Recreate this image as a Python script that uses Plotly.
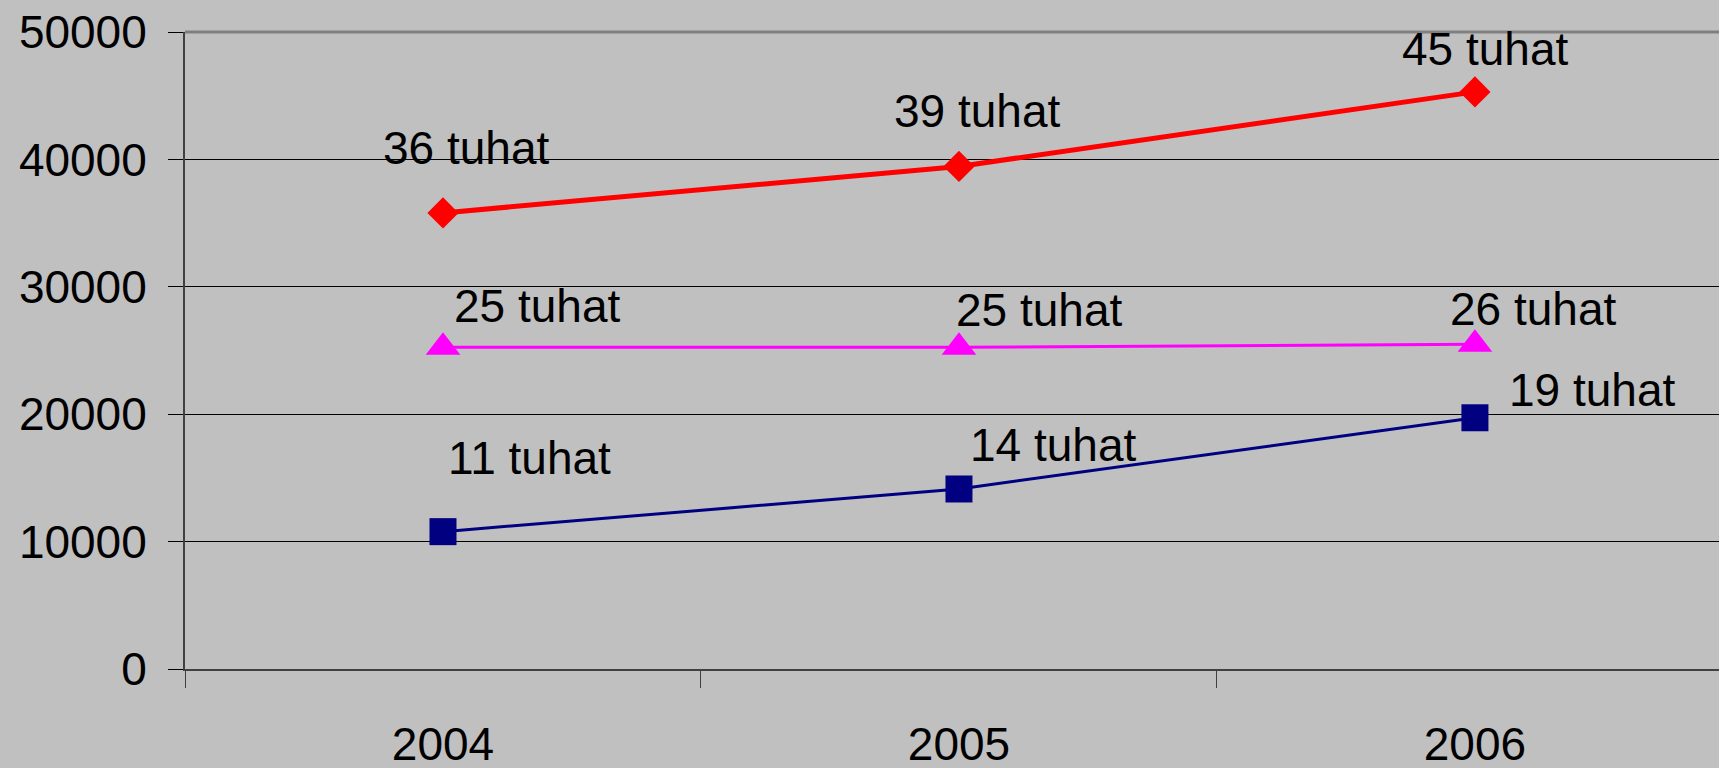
import plotly.graph_objects as go

years = ["2004", "2005", "2006"]
red_vals = [35800, 39450, 45300]
magenta_vals = [25250, 25250, 25500]
navy_vals = [10780, 14130, 19720]
red_labels = ["36 tuhat", "39 tuhat", "45 tuhat"]
magenta_labels = ["25 tuhat", "25 tuhat", "26 tuhat"]
navy_labels = ["11 tuhat", "14 tuhat", "19 tuhat"]
y_ticks = [0, 10000, 20000, 30000, 40000, 50000]
y_tick_text = ["0", "10000", "20000", "30000", "40000", "50000"]

FONT = "Liberation Sans, Arial, sans-serif"
fig = go.Figure()

fig.add_trace(go.Scatter(x=years, y=red_vals, mode="lines+markers",
                         line=dict(color="#FF0000", width=5),
                         marker=dict(symbol="diamond", size=24, color="#FF0000")))
fig.add_trace(go.Scatter(x=years, y=magenta_vals, mode="lines+markers",
                         line=dict(color="#FF00FF", width=3),
                         marker=dict(symbol="triangle-up", size=30, color="#FF00FF")))
fig.add_trace(go.Scatter(x=years, y=navy_vals, mode="lines+markers",
                         line=dict(color="#000080", width=3),
                         marker=dict(symbol="square", size=27, color="#000080")))

shifts = {
    "red": [(23, 65), (18, 55), (10, 43)],
    "magenta": [(94, 41), (80, 37), (58, 35)],
    "navy": [(87, 74), (94, 44), (117, 28)],
}
for key, vals, labels in [("red", red_vals, red_labels),
                          ("magenta", magenta_vals, magenta_labels),
                          ("navy", navy_vals, navy_labels)]:
    for i, (v, lab) in enumerate(zip(vals, labels)):
        dx, dy = shifts[key][i]
        fig.add_annotation(x=i, y=v, xref="x", yref="y", text=lab, showarrow=False,
                           xshift=dx, yshift=dy,
                           font=dict(family=FONT, size=46, color="black"))

fig.add_shape(type="line", xref="paper", yref="paper", x0=0, x1=1, y0=1, y1=1,
              line=dict(color="#808080", width=3))

fig.update_layout(
    width=1719, height=768,
    paper_bgcolor="#C0C0C0", plot_bgcolor="#C0C0C0",
    margin=dict(l=185, r=0, t=32, b=99),
    showlegend=False,
    font=dict(family=FONT, size=46, color="black"),
)
fig.update_xaxes(type="category", range=[-0.5, 2.473], automargin=False,
                 showgrid=False, showline=True, linecolor="#404040", linewidth=2,
                 ticks="outside", tickson="boundaries", ticklen=17, tickcolor="#404040",
                 tickwidth=1, ticklabelstandoff=34,
                 tickfont=dict(family=FONT, size=46, color="black"))
fig.update_yaxes(range=[0, 50000], tickvals=y_ticks, ticktext=y_tick_text, automargin=False,
                 showgrid=True, gridcolor="black", gridwidth=1,
                 showline=True, linecolor="#404040", linewidth=2,
                 ticks="outside", ticklen=15, tickcolor="black", tickwidth=1,
                 ticklabelstandoff=12, zeroline=False,
                 tickfont=dict(family=FONT, size=46, color="black"))

fig.write_html("out.html", config={"displayModeBar": False},
               post_script="document.body.style.margin='0';document.body.style.overflow='hidden';")
